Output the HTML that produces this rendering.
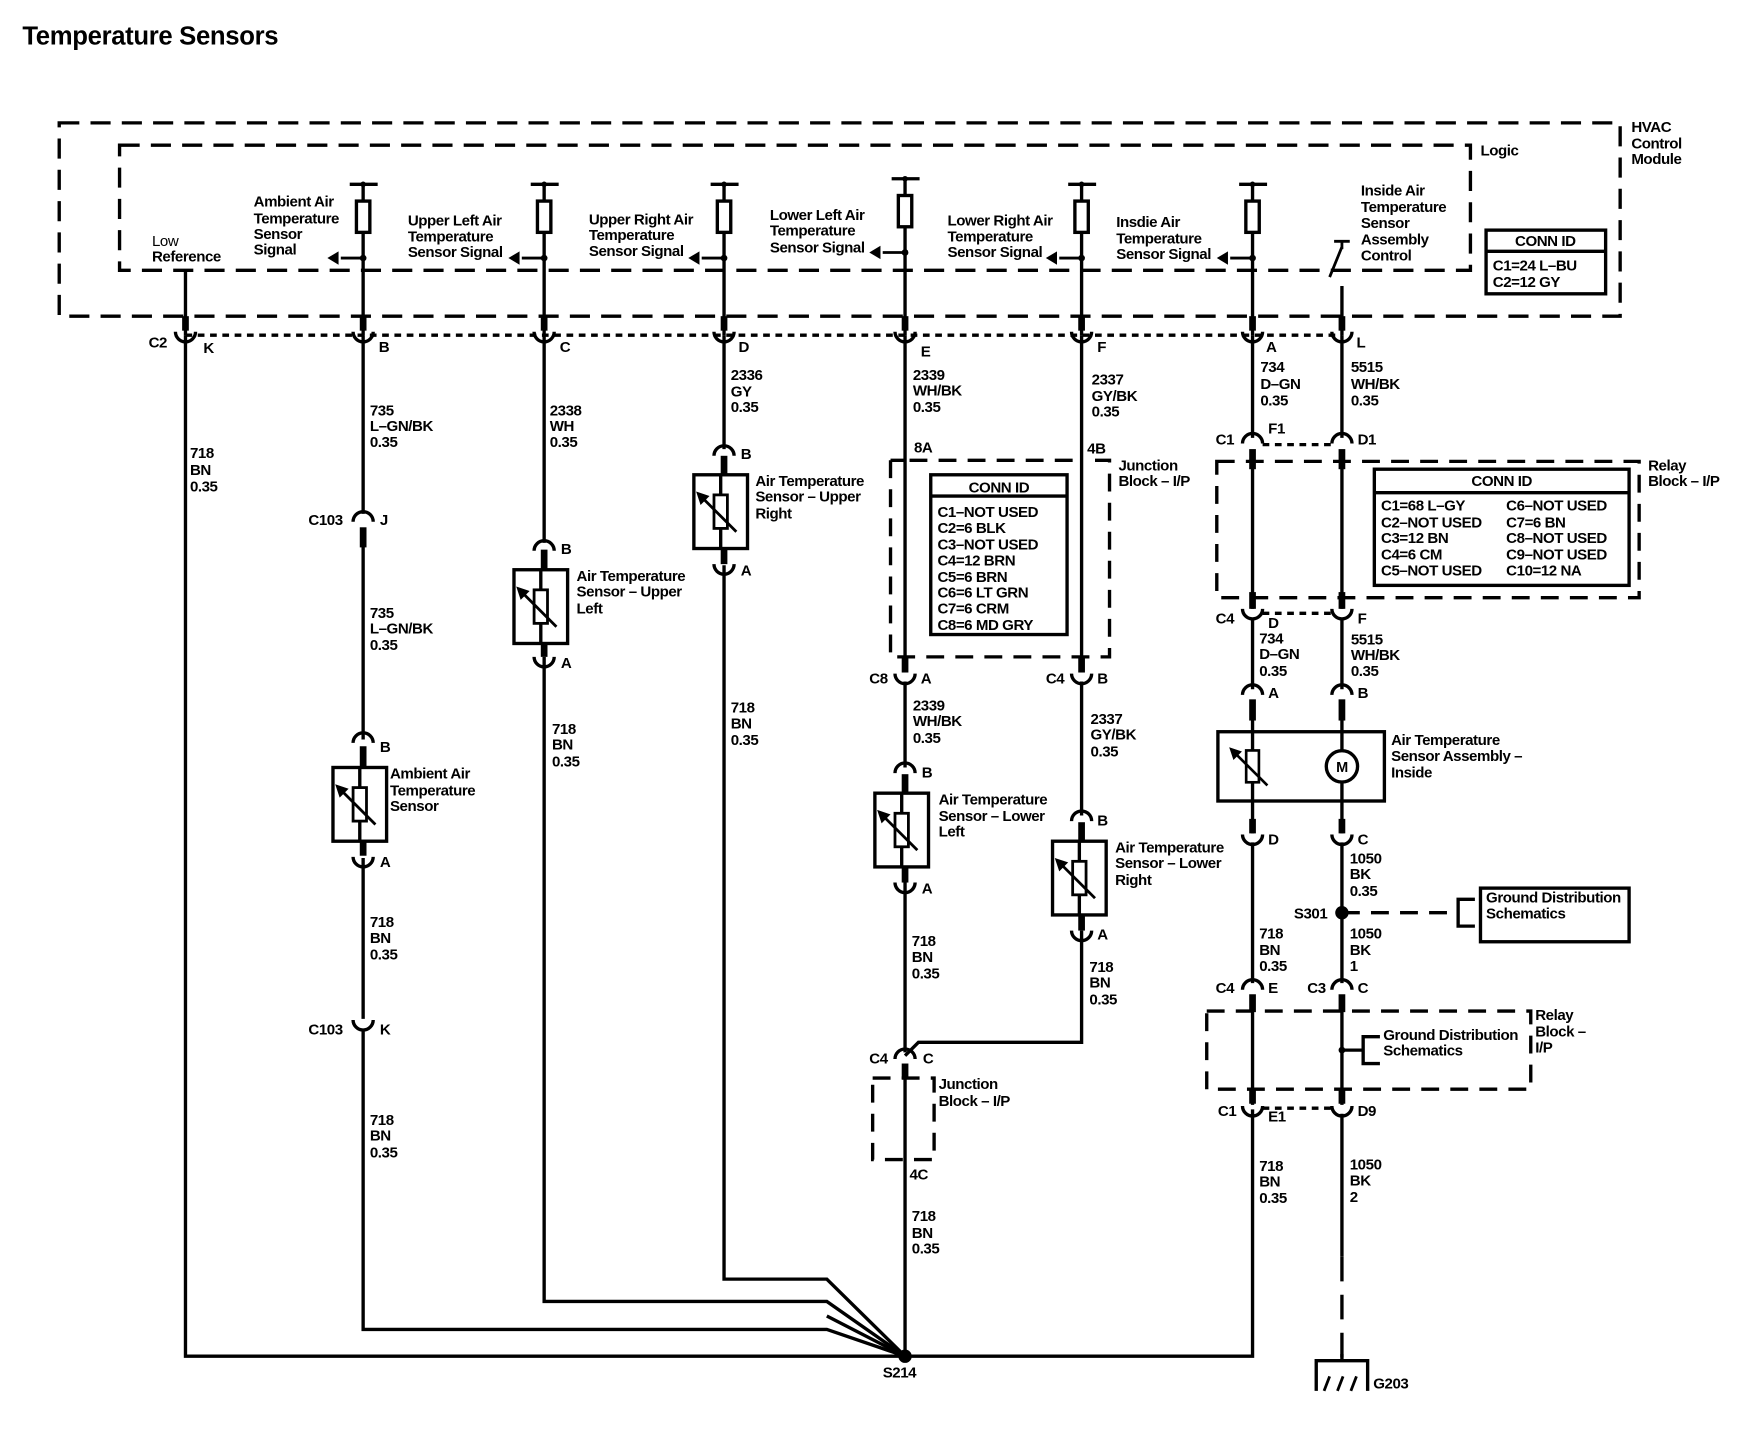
<!DOCTYPE html>
<html><head><meta charset="utf-8"><style>
html,body{margin:0;padding:0;background:#fff}
svg{display:block}
text{font-family:"Liberation Sans",Arial,sans-serif;font-size:13.5px;font-weight:bold;fill:#000;letter-spacing:-0.4px}
</style></head><body>
<svg width="1752" height="1440" viewBox="0 0 1568 1289" preserveAspectRatio="none" xmlns="http://www.w3.org/2000/svg">
<defs>
<path id="arch" d="M-9,5 A9,9 0 0 1 9,5" fill="none" stroke="#000" stroke-width="3"/>
<path id="cup" d="M-9,-5 A9,9 0 0 0 9,-5" fill="none" stroke="#000" stroke-width="3"/>
<g id="sens">
<rect x="-24" y="-33" width="48" height="66" fill="#fff" stroke="#000" stroke-width="3"/>
<line x1="0" y1="-33" x2="0" y2="33" stroke="#000" stroke-width="3"/>
<rect x="-6" y="-15" width="12" height="30" fill="#fff" stroke="#000" stroke-width="2.5"/>
<line x1="-18" y1="-14" x2="14" y2="18" stroke="#000" stroke-width="2.5"/>
<polygon points="-22,-18 -10,-14 -18,-6" fill="#000"/>
</g>
<g id="res"><rect x="-6" y="-14" width="12" height="28" fill="#fff" stroke="#000" stroke-width="3"/></g>
<g id="arr"><polygon points="-12,0 -2,-6 -2,6" fill="#000"/></g>
</defs>
<text x="20" y="40" style="font-size:23px;letter-spacing:-0.3px">Temperature Sensors</text>

<g fill="none" stroke="#000" stroke-width="3">
<rect x="53" y="110" width="1397" height="173" stroke-dasharray="18 10"/>
<rect x="107" y="130" width="1209" height="112" stroke-dasharray="18 10"/>
<rect x="1330" y="206" width="107" height="57"/>
<line x1="1330" y1="225" x2="1437" y2="225"/>
<line x1="166" y1="300" x2="1201" y2="300" stroke-dasharray="6 5"/>
<g>
<line x1="325" y1="165" x2="325" y2="300"/><line x1="313" y1="165" x2="338" y2="165"/>
<line x1="487" y1="165" x2="487" y2="300"/><line x1="475" y1="165" x2="500" y2="165"/>
<line x1="648" y1="165" x2="648" y2="300"/><line x1="636" y1="165" x2="661" y2="165"/>
<line x1="810" y1="160" x2="810" y2="300"/><line x1="798" y1="160" x2="823" y2="160"/>
<line x1="968" y1="165" x2="968" y2="300"/><line x1="956" y1="165" x2="981" y2="165"/>
<line x1="1121" y1="165" x2="1121" y2="300"/><line x1="1109" y1="165" x2="1134" y2="165"/>
<line x1="166" y1="242" x2="166" y2="300"/>
<line x1="1201" y1="256" x2="1201" y2="300"/>
<path d="M1190,248 L1201,221 M1194,216 L1208,216" stroke-width="2.5"/>
<line x1="1201" y1="216" x2="1201" y2="223" stroke-width="2.5"/>
</g>
<g stroke-width="2.5">
<line x1="325" y1="231" x2="305" y2="231"/><line x1="487" y1="231" x2="467" y2="231"/>
<line x1="648" y1="231" x2="628" y2="231"/><line x1="810" y1="226" x2="790" y2="226"/>
<line x1="968" y1="231" x2="948" y2="231"/><line x1="1121" y1="231" x2="1101" y2="231"/>
</g>
<g stroke-width="6">
<line x1="166" y1="283" x2="166" y2="296"/><line x1="325" y1="283" x2="325" y2="296"/>
<line x1="487" y1="283" x2="487" y2="296"/><line x1="648" y1="283" x2="648" y2="296"/>
<line x1="810" y1="283" x2="810" y2="296"/><line x1="968" y1="283" x2="968" y2="296"/>
<line x1="1121" y1="283" x2="1121" y2="296"/><line x1="1201" y1="283" x2="1201" y2="296"/>
</g>
<polyline points="166,300 166,1214 1121,1214 1121,993"/>
<polyline points="325,300 325,460"/>
<polyline points="325,475 325,662"/>
<polyline points="325,768 325,912"/>
<polyline points="325,922 325,1190 740,1190 810,1214"/>
<polyline points="487,300 487,486"/>
<polyline points="487,588 487,1165 740,1165 810,1214"/>
<polyline points="648,300 648,402"/>
<polyline points="648,506 648,1145 740,1145 810,1214"/>
<line x1="740" y1="1178" x2="810" y2="1214"/>
<polyline points="810,300 810,602"/>
<polyline points="810,610 810,687"/>
<polyline points="810,790 810,942"/>
<polyline points="810,958 810,1214"/>
<polyline points="968,300 968,602"/>
<polyline points="968,610 968,730"/>
<polyline points="968,833 968,933 822,933 810,945"/>
<polyline points="1121,300 1121,392"/>
<polyline points="1121,405 1121,545"/>
<polyline points="1121,553 1121,617"/>
<polyline points="1121,628 1121,746"/>
<polyline points="1121,754 1121,880"/>
<polyline points="1121,893 1121,989"/>
<polyline points="1201,300 1201,392"/>
<polyline points="1201,405 1201,545"/>
<polyline points="1201,553 1201,617"/>
<polyline points="1201,628 1201,746"/>
<polyline points="1201,754 1201,880"/>
<polyline points="1201,893 1201,989"/>
<polyline points="1201,997 1201,1125"/>
<line x1="1201" y1="1125" x2="1201" y2="1215" stroke-dasharray="22 12"/>
<polyline points="1178,1245 1178,1218 1224,1218 1224,1245"/>
<line x1="1201" y1="1212" x2="1201" y2="1218"/>
<path d="M1190,1232 L1185,1245 M1202,1232 L1197,1245 M1214,1232 L1209,1245" stroke-width="2.5"/>
<path d="M797,412 V588 H993 V412 H980 M960,412 H810 M797,412 H810" stroke-dasharray="16 10"/>
<rect x="833" y="425" width="122" height="143"/>
<line x1="833" y1="444" x2="955" y2="444"/>
<rect x="781" y="965" width="55" height="73" stroke-dasharray="16 10"/>
<rect x="1089" y="413" width="378" height="122" stroke-dasharray="16 10"/>
<rect x="1230" y="420" width="228" height="104"/>
<line x1="1230" y1="441" x2="1458" y2="441"/>
<rect x="1080" y="905" width="290" height="70" stroke-dasharray="16 10"/>
<line x1="1130" y1="398" x2="1192" y2="398" stroke-dasharray="6 5"/>
<line x1="1130" y1="549" x2="1192" y2="549" stroke-dasharray="6 5"/>
<line x1="1130" y1="992" x2="1192" y2="992" stroke-dasharray="6 5"/>
<rect x="1090" y="655" width="149" height="62"/>
<circle cx="1201" cy="686" r="14" fill="#fff"/>
<line x1="1201" y1="817" x2="1305" y2="817" stroke-dasharray="16 10"/>
<path d="M1320,805 H1305 V829 H1320"/>
<rect x="1325" y="795" width="133" height="48"/>
<line x1="1201" y1="940" x2="1220" y2="940"/>
<path d="M1235,928 H1220 V952 H1235"/>
</g>
<g stroke="#000" stroke-width="6">
<line x1="325" y1="472" x2="325" y2="490"/>
<line x1="325" y1="668" x2="325" y2="688"/><line x1="325" y1="752" x2="325" y2="766"/>
<line x1="487" y1="492" x2="487" y2="512"/><line x1="487" y1="575" x2="487" y2="588"/>
<line x1="648" y1="408" x2="648" y2="426"/><line x1="648" y1="490" x2="648" y2="505"/>
<line x1="810" y1="588" x2="810" y2="602"/><line x1="968" y1="588" x2="968" y2="602"/>
<line x1="810" y1="693" x2="810" y2="711"/><line x1="810" y1="775" x2="810" y2="790"/>
<line x1="968" y1="736" x2="968" y2="754"/><line x1="968" y1="818" x2="968" y2="833"/>
<line x1="810" y1="952" x2="810" y2="966"/>
<line x1="1121" y1="402" x2="1121" y2="420"/><line x1="1201" y1="402" x2="1201" y2="420"/>
<line x1="1121" y1="530" x2="1121" y2="545"/><line x1="1201" y1="530" x2="1201" y2="545"/>
<line x1="1121" y1="626" x2="1121" y2="645"/><line x1="1201" y1="626" x2="1201" y2="645"/>
<line x1="1121" y1="733" x2="1121" y2="746"/><line x1="1201" y1="733" x2="1201" y2="746"/>
<line x1="1121" y1="890" x2="1121" y2="906"/><line x1="1201" y1="890" x2="1201" y2="906"/>
<line x1="1121" y1="975" x2="1121" y2="988"/><line x1="1201" y1="975" x2="1201" y2="988"/>
</g>
<use href="#res" x="325" y="194"/><use href="#res" x="487" y="194"/><use href="#res" x="648" y="194"/>
<use href="#res" x="810" y="189"/><use href="#res" x="968" y="194"/><use href="#res" x="1121" y="194"/>
<g fill="#000">
<circle cx="325" cy="231" r="3"/><circle cx="487" cy="231" r="3"/><circle cx="648" cy="231" r="3"/>
<circle cx="810" cy="226" r="3"/><circle cx="968" cy="231" r="3"/><circle cx="1121" cy="231" r="3"/>
<circle cx="325" cy="165" r="2.5"/><circle cx="487" cy="165" r="2.5"/><circle cx="648" cy="165" r="2.5"/>
<circle cx="810" cy="160" r="2.5"/><circle cx="968" cy="165" r="2.5"/><circle cx="1121" cy="165" r="2.5"/>
<circle cx="810" cy="1214" r="6"/><circle cx="1201" cy="817" r="6"/><circle cx="1201" cy="940" r="3"/>
</g>
<use href="#arr" x="305" y="231"/><use href="#arr" x="467" y="231"/><use href="#arr" x="628" y="231"/>
<use href="#arr" x="790" y="226"/><use href="#arr" x="948" y="231"/><use href="#arr" x="1101" y="231"/>
<use href="#cup" x="166" y="302"/><use href="#cup" x="325" y="302"/><use href="#cup" x="487" y="302"/>
<use href="#cup" x="648" y="302"/><use href="#cup" x="810" y="302"/><use href="#cup" x="968" y="302"/>
<use href="#cup" x="1121" y="302"/><use href="#cup" x="1201" y="302"/>
<use href="#arch" x="325" y="462"/><use href="#cup" x="325" y="918"/>
<use href="#arch" x="325" y="660"/><use href="#cup" x="325" y="772"/>
<use href="#arch" x="487" y="488"/><use href="#cup" x="487" y="593"/>
<use href="#arch" x="648" y="403"/><use href="#cup" x="648" y="510"/>
<use href="#cup" x="810" y="608"/><use href="#cup" x="968" y="608"/>
<use href="#arch" x="810" y="687"/><use href="#cup" x="810" y="795"/>
<use href="#arch" x="968" y="730"/><use href="#cup" x="968" y="838"/>
<use href="#arch" x="810" y="943"/>
<use href="#arch" x="1121" y="392"/><use href="#arch" x="1201" y="392"/>
<use href="#cup" x="1121" y="550"/><use href="#cup" x="1201" y="550"/>
<use href="#arch" x="1121" y="617"/><use href="#arch" x="1201" y="617"/>
<use href="#cup" x="1121" y="752"/><use href="#cup" x="1201" y="752"/>
<use href="#arch" x="1121" y="881"/><use href="#arch" x="1201" y="881"/>
<use href="#cup" x="1121" y="995"/><use href="#cup" x="1201" y="995"/>
<use href="#sens" x="322" y="720"/><use href="#sens" x="484" y="543"/><use href="#sens" x="645" y="458"/>
<use href="#sens" x="807" y="743"/><use href="#sens" x="966" y="786"/>
<g transform="translate(1121,686) scale(0.95)">
<rect x="-6" y="-15" width="12" height="30" fill="#fff" stroke="#000" stroke-width="2.5"/>
<line x1="-18" y1="-14" x2="14" y2="18" stroke="#000" stroke-width="2.5"/>
<polygon points="-22,-18 -10,-14 -18,-6" fill="#000"/>
</g>
<text x="1201" y="691" text-anchor="middle" style="font-size:13px">M</text>

<text x="1460" y="118">HVAC</text><text x="1460" y="133">Control</text><text x="1460" y="147">Module</text>
<text x="1325" y="139">Logic</text>
<text x="1383" y="220" text-anchor="middle">CONN ID</text>
<text x="1336" y="242">C1=24 L–BU</text><text x="1336" y="257">C2=12 GY</text>
<text x="136" y="220" style="font-weight:normal">Low</text><text x="136" y="234">Reference</text>
<text x="227" y="185">Ambient Air</text><text x="227" y="200">Temperature</text><text x="227" y="214">Sensor</text><text x="227" y="228">Signal</text>
<text x="365" y="202">Upper Left Air</text><text x="365" y="216">Temperature</text><text x="365" y="230">Sensor Signal</text>
<text x="527" y="201">Upper Right Air</text><text x="527" y="215">Temperature</text><text x="527" y="229">Sensor Signal</text>
<text x="689" y="197">Lower Left Air</text><text x="689" y="211">Temperature</text><text x="689" y="226">Sensor Signal</text>
<text x="848" y="202">Lower Right Air</text><text x="848" y="216">Temperature</text><text x="848" y="230">Sensor Signal</text>
<text x="999" y="203">Insdie Air</text><text x="999" y="218">Temperature</text><text x="999" y="232">Sensor Signal</text>
<text x="1218" y="175">Inside Air</text><text x="1218" y="190">Temperature</text><text x="1218" y="204">Sensor</text><text x="1218" y="219">Assembly</text><text x="1218" y="233">Control</text>
<text x="133" y="311">C2</text><text x="182" y="316">K</text>
<text x="339" y="315">B</text><text x="501" y="315">C</text><text x="661" y="315">D</text>
<text x="824" y="319">E</text><text x="982" y="315">F</text><text x="1133" y="315">A</text><text x="1214" y="311">L</text>
<text x="170" y="410">718</text><text x="170" y="425">BN</text><text x="170" y="440">0.35</text>
<text x="331" y="372">735</text><text x="331" y="386">L–GN/BK</text><text x="331" y="400">0.35</text>
<text x="276" y="470">C103</text><text x="340" y="470">J</text>
<text x="331" y="553">735</text><text x="331" y="567">L–GN/BK</text><text x="331" y="582">0.35</text>
<text x="340" y="673">B</text>
<text x="349" y="697">Ambient Air</text><text x="349" y="712">Temperature</text><text x="349" y="726">Sensor</text>
<text x="340" y="776">A</text>
<text x="331" y="830">718</text><text x="331" y="844">BN</text><text x="331" y="859">0.35</text>
<text x="276" y="926">C103</text><text x="340" y="926">K</text>
<text x="331" y="1007">718</text><text x="331" y="1021">BN</text><text x="331" y="1036">0.35</text>
<text x="492" y="372">2338</text><text x="492" y="386">WH</text><text x="492" y="400">0.35</text>
<text x="502" y="496">B</text>
<text x="516" y="520">Air Temperature</text><text x="516" y="534">Sensor – Upper</text><text x="516" y="549">Left</text>
<text x="502" y="598">A</text>
<text x="494" y="657">718</text><text x="494" y="671">BN</text><text x="494" y="686">0.35</text>
<text x="654" y="340">2336</text><text x="654" y="355">GY</text><text x="654" y="369">0.35</text>
<text x="663" y="411">B</text>
<text x="676" y="435">Air Temperature</text><text x="676" y="449">Sensor – Upper</text><text x="676" y="464">Right</text>
<text x="663" y="515">A</text>
<text x="654" y="638">718</text><text x="654" y="652">BN</text><text x="654" y="667">0.35</text>
<text x="817" y="340">2339</text><text x="817" y="354">WH/BK</text><text x="817" y="369">0.35</text>
<text x="977" y="344">2337</text><text x="977" y="359">GY/BK</text><text x="977" y="373">0.35</text>
<text x="818" y="405">8A</text><text x="973" y="406">4B</text>
<text x="1001" y="421">Junction</text><text x="1001" y="435">Block – I/P</text>
<text x="894" y="441" text-anchor="middle">CONN ID</text>
<text x="839" y="463">C1–NOT USED</text><text x="839" y="477">C2=6 BLK</text><text x="839" y="492">C3–NOT USED</text>
<text x="839" y="506">C4=12 BRN</text><text x="839" y="521">C5=6 BRN</text><text x="839" y="535">C6=6 LT GRN</text>
<text x="839" y="549">C7=6 CRM</text><text x="839" y="564">C8=6 MD GRY</text>
<text x="778" y="612">C8</text><text x="824" y="612">A</text>
<text x="936" y="612">C4</text><text x="982" y="612">B</text>
<text x="817" y="636">2339</text><text x="817" y="650">WH/BK</text><text x="817" y="665">0.35</text>
<text x="976" y="648">2337</text><text x="976" y="662">GY/BK</text><text x="976" y="677">0.35</text>
<text x="825" y="696">B</text>
<text x="840" y="720">Air Temperature</text><text x="840" y="735">Sensor – Lower</text><text x="840" y="749">Left</text>
<text x="825" y="800">A</text>
<text x="982" y="739">B</text>
<text x="998" y="763">Air Temperature</text><text x="998" y="777">Sensor – Lower</text><text x="998" y="792">Right</text>
<text x="982" y="841">A</text>
<text x="816" y="847">718</text><text x="816" y="861">BN</text><text x="816" y="876">0.35</text>
<text x="975" y="870">718</text><text x="975" y="884">BN</text><text x="975" y="899">0.35</text>
<text x="778" y="952">C4</text><text x="826" y="952">C</text>
<text x="840" y="975">Junction</text><text x="840" y="990">Block – I/P</text>
<text x="814" y="1056">4C</text>
<text x="816" y="1093">718</text><text x="816" y="1108">BN</text><text x="816" y="1122">0.35</text>
<text x="790" y="1233">S214</text>
<text x="1128" y="333">734</text><text x="1128" y="348">D–GN</text><text x="1128" y="363">0.35</text>
<text x="1209" y="333">5515</text><text x="1209" y="348">WH/BK</text><text x="1209" y="363">0.35</text>
<text x="1088" y="398">C1</text><text x="1135" y="388">F1</text><text x="1215" y="398">D1</text>
<text x="1475" y="421">Relay</text><text x="1475" y="435">Block – I/P</text>
<text x="1344" y="435" text-anchor="middle">CONN ID</text>
<text x="1236" y="457">C1=68 L–GY</text><text x="1236" y="472">C2–NOT USED</text><text x="1236" y="486">C3=12 BN</text><text x="1236" y="501">C4=6 CM</text><text x="1236" y="515">C5–NOT USED</text>
<text x="1348" y="457">C6–NOT USED</text><text x="1348" y="472">C7=6 BN</text><text x="1348" y="486">C8–NOT USED</text><text x="1348" y="501">C9–NOT USED</text><text x="1348" y="515">C10=12 NA</text>
<text x="1088" y="558">C4</text><text x="1135" y="562">D</text><text x="1215" y="558">F</text>
<text x="1127" y="576">734</text><text x="1127" y="590">D–GN</text><text x="1127" y="605">0.35</text>
<text x="1209" y="577">5515</text><text x="1209" y="591">WH/BK</text><text x="1209" y="605">0.35</text>
<text x="1135" y="625">A</text><text x="1215" y="625">B</text>
<text x="1245" y="667">Air Temperature</text><text x="1245" y="681">Sensor Assembly –</text><text x="1245" y="696">Inside</text>
<text x="1135" y="756">D</text><text x="1215" y="756">C</text>
<text x="1208" y="773">1050</text><text x="1208" y="787">BK</text><text x="1208" y="802">0.35</text>
<text x="1158" y="822">S301</text>
<text x="1330" y="808">Ground Distribution</text><text x="1330" y="822">Schematics</text>
<text x="1208" y="840">1050</text><text x="1208" y="855">BK</text><text x="1208" y="869">1</text>
<text x="1127" y="840">718</text><text x="1127" y="855">BN</text><text x="1127" y="869">0.35</text>
<text x="1088" y="889">C4</text><text x="1135" y="889">E</text><text x="1170" y="889">C3</text><text x="1215" y="889">C</text>
<text x="1374" y="913">Relay</text><text x="1374" y="928">Block –</text><text x="1374" y="942">I/P</text>
<text x="1238" y="931">Ground Distribution</text><text x="1238" y="945">Schematics</text>
<text x="1090" y="999">C1</text><text x="1135" y="1004">E1</text><text x="1215" y="999">D9</text>
<text x="1127" y="1048">718</text><text x="1127" y="1062">BN</text><text x="1127" y="1077">0.35</text>
<text x="1208" y="1047">1050</text><text x="1208" y="1061">BK</text><text x="1208" y="1076">2</text>
<text x="1229" y="1243">G203</text>
</svg>
</body></html>
